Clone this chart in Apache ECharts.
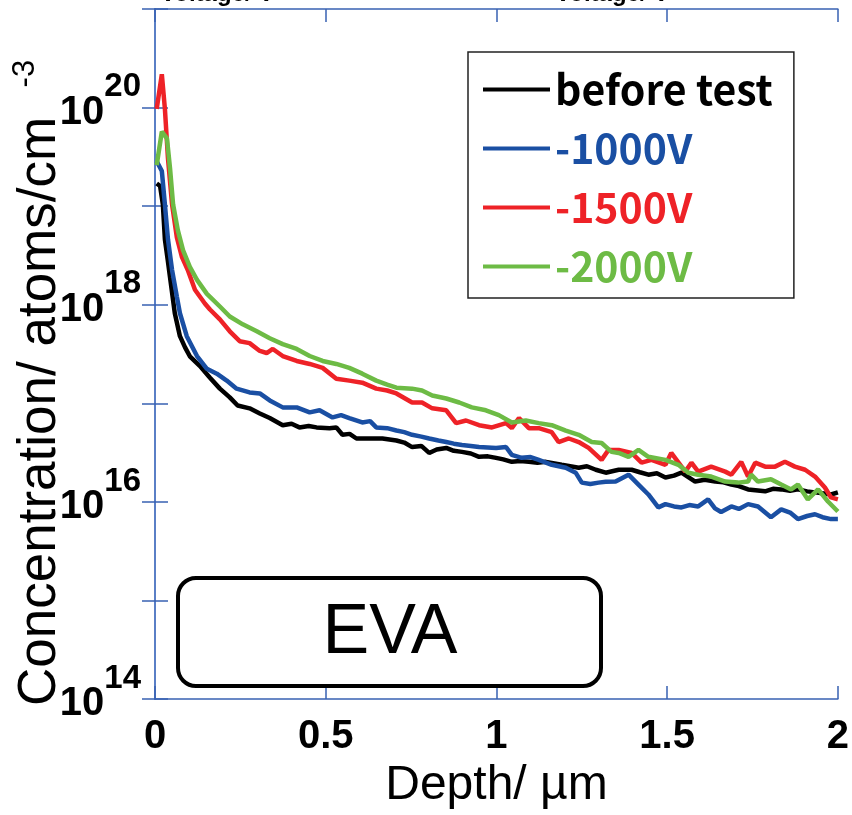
<!DOCTYPE html>
<html>
<head>
<meta charset="utf-8">
<style>
  html, body { margin: 0; padding: 0; background: #fff; }
  #chart { width: 852px; height: 815px; }
</style>
<script src="https://cdn.jsdelivr.net/npm/echarts@6/dist/echarts.min.js"></script>
</head>
<body>
<div id="chart"></div>
<script>
// SIMS depth profiles of EVA: [depth (µm), concentration (atoms/cm^3)]
const seriesNames = ['before test', '-1000V', '-1500V', '-2000V'];
const seriesColors = ['#000000', '#1a4fa3', '#ee2227', '#6dbb45'];

const beforeTest = [
  [0.005, 1.7e19], [0.015, 1.6e19], [0.023, 1.04e19], [0.029, 4.6e18], [0.037, 2.9e18],
  [0.044, 1.9e18], [0.058, 8.2e17], [0.073, 4.8e17], [0.088, 3.7e17], [0.102, 3.0e17],
  [0.131, 2.4e17], [0.161, 1.82e17], [0.190, 1.41e17], [0.219, 1.15e17], [0.242, 9.5e16],
  [0.277, 8.9e16], [0.307, 7.9e16], [0.336, 7.1e16], [0.374, 6.0e16], [0.400, 6.2e16],
  [0.423, 5.7e16], [0.450, 5.9e16], [0.473, 5.7e16], [0.511, 5.6e16], [0.531, 5.7e16],
  [0.549, 4.8e16], [0.570, 4.9e16], [0.590, 4.4e16], [0.628, 4.4e16], [0.666, 4.4e16],
  [0.707, 4.2e16], [0.730, 4.0e16], [0.753, 3.6e16], [0.780, 3.7e16], [0.803, 3.14e16],
  [0.825, 3.4e16], [0.853, 3.53e16], [0.875, 3.3e16], [0.899, 3.22e16], [0.925, 3.1e16],
  [0.949, 2.87e16], [0.975, 2.9e16], [0.999, 2.8e16], [1.020, 2.7e16], [1.045, 2.55e16],
  [1.070, 2.6e16], [1.095, 2.55e16], [1.120, 2.5e16], [1.145, 2.55e16], [1.191, 2.38e16],
  [1.241, 2.22e16], [1.265, 2.3e16], [1.291, 2.12e16], [1.320, 1.98e16], [1.358, 2.12e16],
  [1.396, 2.12e16], [1.420, 2.0e16], [1.445, 1.89e16], [1.470, 1.95e16], [1.495, 1.77e16],
  [1.520, 1.85e16], [1.542, 1.98e16], [1.582, 1.61e16], [1.610, 1.68e16], [1.641, 1.61e16],
  [1.665, 1.58e16], [1.688, 1.5e16], [1.710, 1.45e16], [1.737, 1.34e16], [1.787, 1.28e16],
  [1.810, 1.36e16], [1.834, 1.34e16], [1.860, 1.3e16], [1.883, 1.34e16], [1.910, 1.28e16],
  [1.933, 1.25e16], [1.960, 1.22e16], [1.980, 1.19e16], [2.000, 1.25e16]
];

const minus1000V = [
  [0.005, 2.86e19], [0.020, 2.27e19], [0.029, 1.04e19], [0.038, 4.6e18], [0.050, 2.25e18],
  [0.064, 1.21e18], [0.073, 8.2e17], [0.093, 4.8e17], [0.123, 3.02e17], [0.152, 2.24e17],
  [0.181, 2.0e17], [0.210, 1.7e17], [0.239, 1.41e17], [0.277, 1.29e17], [0.307, 1.26e17],
  [0.336, 1.07e17], [0.374, 9.1e16], [0.415, 9.1e16], [0.453, 8.1e16], [0.482, 8.5e16],
  [0.520, 7.2e16], [0.545, 7.6e16], [0.569, 7.1e16], [0.607, 6.4e16], [0.630, 6.6e16],
  [0.648, 5.7e16], [0.680, 5.6e16], [0.707, 5.3e16], [0.730, 5.1e16], [0.753, 4.8e16],
  [0.780, 4.6e16], [0.803, 4.4e16], [0.830, 4.2e16], [0.853, 4.05e16], [0.875, 3.9e16],
  [0.899, 3.78e16], [0.925, 3.7e16], [0.949, 3.61e16], [0.999, 3.53e16], [1.028, 3.61e16],
  [1.045, 3.0e16], [1.074, 2.8e16], [1.100, 2.85e16], [1.124, 2.67e16], [1.162, 2.38e16],
  [1.203, 2.22e16], [1.232, 1.98e16], [1.250, 1.57e16], [1.275, 1.52e16], [1.299, 1.57e16],
  [1.320, 1.6e16], [1.349, 1.61e16], [1.387, 1.89e16], [1.416, 1.5e16], [1.445, 1.19e16],
  [1.474, 8.8e15], [1.495, 9.5e15], [1.520, 9.0e15], [1.542, 8.8e15], [1.565, 9.3e15],
  [1.591, 9.0e15], [1.620, 1.06e16], [1.640, 8.6e15], [1.658, 7.9e15], [1.688, 9.0e15],
  [1.710, 8.5e15], [1.737, 9.5e15], [1.766, 9.0e15], [1.804, 7.0e15], [1.834, 8.4e15],
  [1.860, 7.8e15], [1.883, 6.7e15], [1.910, 7.2e15], [1.933, 7.5e15], [1.955, 7.0e15],
  [1.980, 6.7e15], [2.000, 6.7e15]
];

const minus1500V = [
  [0.005, 9.7e19], [0.020, 2.18e20], [0.029, 9.7e19], [0.038, 3.06e19], [0.050, 1.04e19],
  [0.064, 4.83e18], [0.079, 3.04e18], [0.096, 2.25e18], [0.117, 1.42e18], [0.146, 1.03e18],
  [0.161, 8.95e17], [0.190, 7.1e17], [0.219, 5.38e17], [0.248, 4.27e17], [0.277, 4.08e17],
  [0.307, 3.4e17], [0.327, 3.24e17], [0.345, 3.56e17], [0.374, 3.02e17], [0.415, 2.69e17],
  [0.453, 2.51e17], [0.491, 2.29e17], [0.531, 1.78e17], [0.569, 1.7e17], [0.607, 1.62e17],
  [0.648, 1.41e17], [0.680, 1.35e17], [0.707, 1.26e17], [0.753, 1.02e17], [0.782, 1.02e17],
  [0.812, 8.9e16], [0.853, 8.5e16], [0.882, 6.3e16], [0.911, 6.7e16], [0.949, 6.0e16],
  [0.987, 5.7e16], [1.028, 6.3e16], [1.045, 5.6e16], [1.066, 7.1e16], [1.095, 5.6e16],
  [1.124, 5.6e16], [1.162, 5.1e16], [1.182, 4.05e16], [1.212, 4.4e16], [1.241, 4.05e16],
  [1.270, 3.53e16], [1.308, 2.67e16], [1.328, 3.37e16], [1.358, 3.37e16], [1.396, 3.14e16],
  [1.425, 2.5e16], [1.454, 2.67e16], [1.495, 2.38e16], [1.512, 3.14e16], [1.553, 2.03e16],
  [1.571, 2.5e16], [1.591, 2.03e16], [1.629, 2.28e16], [1.670, 2.03e16], [1.688, 1.89e16],
  [1.717, 2.55e16], [1.737, 1.81e16], [1.758, 2.5e16], [1.787, 2.28e16], [1.816, 2.28e16],
  [1.845, 2.55e16], [1.874, 2.28e16], [1.904, 2.12e16], [1.933, 1.81e16], [1.962, 1.4e16],
  [1.980, 1.11e16], [2.000, 1.06e16]
];

const minus2000V = [
  [0.005, 2.61e19], [0.020, 5.7e19], [0.035, 4.87e19], [0.044, 2.43e19], [0.053, 1.04e19],
  [0.067, 5.68e18], [0.082, 3.58e18], [0.102, 2.42e18], [0.123, 1.79e18], [0.152, 1.29e18],
  [0.190, 9.6e17], [0.219, 7.6e17], [0.257, 6.33e17], [0.298, 5.38e17], [0.336, 4.58e17],
  [0.374, 3.99e17], [0.415, 3.56e17], [0.453, 3.02e17], [0.491, 2.69e17], [0.531, 2.51e17],
  [0.569, 2.29e17], [0.607, 2.0e17], [0.648, 1.7e17], [0.680, 1.55e17], [0.707, 1.44e17],
  [0.753, 1.41e17], [0.782, 1.35e17], [0.812, 1.2e17], [0.853, 1.12e17], [0.891, 1.02e17],
  [0.928, 9.1e16], [0.969, 8.5e16], [1.007, 7.6e16], [1.045, 6.4e16], [1.086, 6.7e16],
  [1.124, 6.3e16], [1.162, 6.0e16], [1.203, 5.3e16], [1.241, 4.8e16], [1.279, 4.05e16],
  [1.308, 3.96e16], [1.337, 3.22e16], [1.358, 3.14e16], [1.387, 2.87e16], [1.416, 3.37e16],
  [1.445, 2.87e16], [1.495, 2.67e16], [1.533, 2.38e16], [1.562, 1.98e16], [1.591, 1.89e16],
  [1.629, 1.81e16], [1.670, 1.61e16], [1.708, 1.57e16], [1.737, 1.61e16], [1.746, 1.89e16],
  [1.766, 1.61e16], [1.804, 1.7e16], [1.834, 1.5e16], [1.863, 1.34e16], [1.883, 1.5e16],
  [1.912, 1.06e16], [1.942, 1.34e16], [1.971, 1.01e16], [2.000, 8.0e15]
];

const xTicks = { min: 0, max: 2, step: 0.5 };
const yDecades = { min: 1e14, max: 1e21 };

const frameBlue = '#3862b2';
const labelFont = "'Liberation Sans', Arial, sans-serif";
const plainFont = "'Liberation Sans', Arial, sans-serif";
const legendFont = "'Noto Sans CJK JP', 'Noto Sans', sans-serif";

const chart = echarts.init(document.getElementById('chart'), null, { renderer: 'canvas' });

// Exponent labels on every other decade: 10^14, 10^16, ...
function expLabel(value) {
  const e = Math.round(Math.log10(value));
  return e % 2 === 0 ? '{b|10}{s|' + e + '}' : '';
}

const axisCommonX = {
  type: 'value',
  min: xTicks.min,
  max: xTicks.max,
  interval: xTicks.step,
  splitLine: { show: false },
  axisLine: { show: true, lineStyle: { color: frameBlue, width: 1.5 } },
  axisTick: { show: true, inside: true, length: 13, lineStyle: { color: frameBlue, width: 1.5 } }
};
const axisCommonY = {
  type: 'log',
  logBase: 10,
  min: yDecades.min,
  max: yDecades.max,
  interval: 1,
  splitLine: { show: false },
  axisLine: { show: true, lineStyle: { color: frameBlue, width: 1.5 } },
  axisTick: { show: true, inside: true, length: 13, lineStyle: { color: frameBlue, width: 1.5 } }
};

const data = [beforeTest, minus1000V, minus1500V, minus2000V];

chart.setOption({
  animation: false,
  backgroundColor: '#ffffff',
  grid: { left: 155, right: 12, top: 9, bottom: 108, containLabel: false },
  legend: {
    left: 468,
    top: 52,
    orient: 'vertical',
    icon: 'rect',
    itemWidth: 67,
    itemHeight: 4,
    itemGap: 18,
    padding: [17, 21, 11, 15],
    borderColor: '#222',
    borderWidth: 1.5,
    backgroundColor: '#fff',
    selectedMode: false,
    textStyle: { fontFamily: legendFont, fontWeight: 'bold', fontSize: 41, lineHeight: 40 },
    data: seriesNames.map((n, i) => ({ name: n, textStyle: { color: seriesColors[i] } }))
  },
  xAxis: [
    Object.assign({}, axisCommonX, {
      position: 'bottom',
      name: 'Depth/ µm',
      nameLocation: 'middle',
      nameGap: 54,
      nameTextStyle: { fontFamily: plainFont, fontSize: 48, color: '#000' },
      axisLabel: { margin: 18, color: '#000', fontFamily: labelFont, fontWeight: 'bold', fontSize: 40 }
    }),
    Object.assign({}, axisCommonX, {
      position: 'top',
      axisLabel: { show: false }
    })
  ],
  yAxis: [
    Object.assign({}, axisCommonY, {
      position: 'left',
      axisLabel: {
        margin: 14,
        padding: [0, 0, 12, 0],
        formatter: expLabel,
        rich: {
          b: { fontFamily: labelFont, fontWeight: 'bold', fontSize: 40, lineHeight: 62, color: '#000', verticalAlign: 'bottom' },
          s: { fontFamily: labelFont, fontWeight: 'bold', fontSize: 33, lineHeight: 30, color: '#000', verticalAlign: 'top' }
        }
      }
    }),
    Object.assign({}, axisCommonY, {
      position: 'right',
      axisLine: { show: true, lineStyle: { color: '#5a7fc6', width: 2 } },
      axisLabel: { show: false }
    })
  ],
  graphic: [
    {
      type: 'text',
      x: 40,
      y: 706,
      rotation: Math.PI / 2,
      style: {
        text: 'Concentration/ atoms/cm  {s|-3}',
        font: '53px ' + plainFont,
        fill: '#000',
        align: 'left',
        verticalAlign: 'middle',
        rich: {
          s: { font: '31px ' + plainFont, fill: '#000', verticalAlign: 'top', lineHeight: 60, padding: [0, 0, 24, 0] }
        }
      }
    },
    {
      type: 'rect',
      shape: { x: 178, y: 578, width: 423, height: 108, r: 18 },
      style: { fill: '#fff', stroke: '#000', lineWidth: 4 },
      z: 10
    },
    {
      type: 'text',
      x: 390,
      y: 634,
      style: { text: 'EVA', font: '70px ' + plainFont, fill: '#000', align: 'center', verticalAlign: 'middle' },
      z: 11
    },
    {
      type: 'text',
      x: 160,
      y: -6,
      style: { text: 'Voltage/ V', font: 'bold 24px ' + plainFont, fill: '#000', align: 'left', verticalAlign: 'middle' }
    },
    {
      type: 'text',
      x: 555,
      y: -6,
      style: { text: 'Voltage/ V', font: 'bold 24px ' + plainFont, fill: '#000', align: 'left', verticalAlign: 'middle' }
    }
  ],
  series: seriesNames.map((n, i) => ({
    name: n,
    type: 'line',
    xAxisIndex: 0,
    yAxisIndex: 0,
    data: data[i],
    showSymbol: false,
    symbol: 'none',
    smooth: false,
    lineStyle: { color: seriesColors[i], width: 4.5 },
    itemStyle: { color: seriesColors[i] },
    z: 2
  }))
});
</script>
</body>
</html>
